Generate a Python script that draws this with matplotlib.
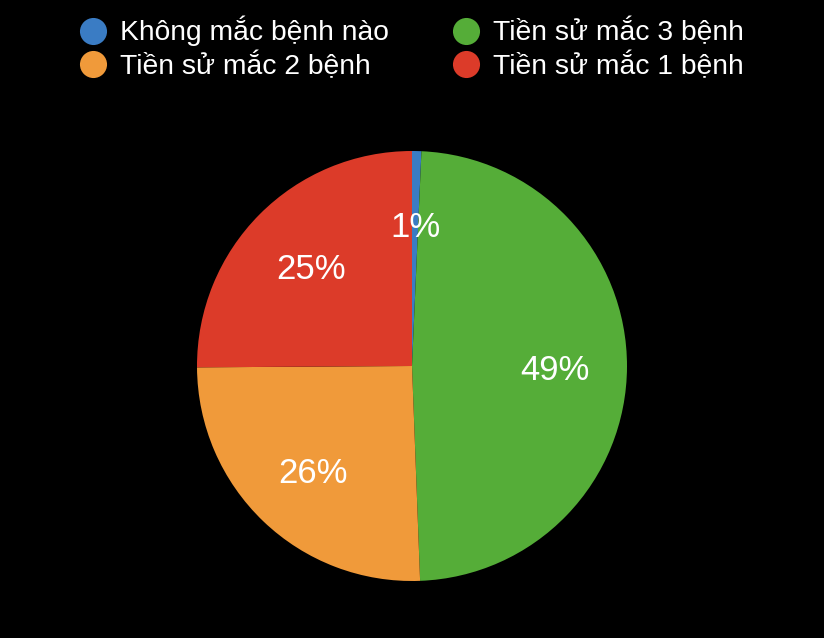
import matplotlib
matplotlib.use("Agg")
import matplotlib.pyplot as plt
from matplotlib.lines import Line2D
import numpy as np

labels = ["Không mắc bệnh nào", "Tiền sử mắc 3 bệnh", "Tiền sử mắc 2 bệnh", "Tiền sử mắc 1 bệnh"]
values = [0.7, 48.7, 25.5, 25.1]
pct_labels = ["1%", "49%", "26%", "25%"]
colors = ["#3a7cc4", "#55ad38", "#f09a3a", "#dc3b29"]

plt.rcParams['font.family'] = ['Liberation Sans', 'DejaVu Sans']

fig = plt.figure(figsize=(8.24, 6.38), dpi=100, facecolor="black")
ax = fig.add_axes([197/824, 57/638, 430/824, 430/638])
ax.set_facecolor("black")
wedges, texts = ax.pie(values, colors=colors, startangle=90, counterclock=False,
                       radius=1.0, wedgeprops=dict(linewidth=0))
for w, t in zip(wedges, pct_labels):
    ang = np.deg2rad((w.theta1 + w.theta2) / 2)
    ax.text(0.665 * np.cos(ang), 0.665 * np.sin(ang) - 0.02, t, ha="center", va="center",
            color="white", fontsize=25)
ax.set_xlim(-1, 1)
ax.set_ylim(-1, 1)
ax.set_aspect("equal")
ax.axis("off")

order = [0, 2, 1, 3]
handles = [Line2D([], [], marker="o", linestyle="none", markersize=19.5,
                  markerfacecolor=colors[i], markeredgewidth=0) for i in order]
leg = fig.legend(handles, [labels[i] for i in order], ncol=2, loc="upper left",
                 bbox_to_anchor=(76/824, 1 - 16/638), frameon=False,
                 fontsize=20.3, labelcolor="white", handletextpad=0.35,
                 columnspacing=2.16, labelspacing=0.19, handlelength=1.2,
                 borderpad=0, borderaxespad=0)
fig.savefig("out.png", dpi=100, facecolor="black")
